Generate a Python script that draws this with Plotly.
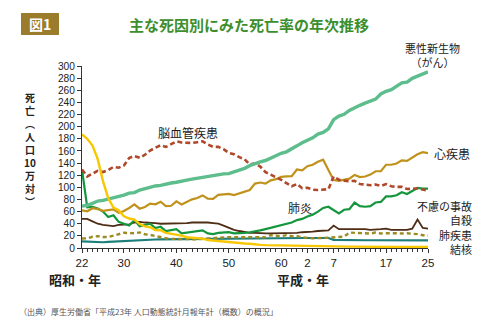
import plotly.graph_objects as go

years = list(range(1947, 2014))

cancer = [69.0, 70.4, 73.6, 77.4, 78.5, 80.6, 82.2, 85.3, 87.1, 90.5, 91.3, 95.5, 98.2, 100.4,
          102.3, 103.2, 105.5, 107.2, 108.4, 110.8, 111.8, 113.4, 114.9, 116.3, 117.7, 120.4,
          121.2, 122.2, 122.6, 125.3, 128.4, 131.3, 135.7, 139.1, 142.0, 144.2, 148.3, 152.5,
          156.1, 158.5, 164.2, 168.4, 173.6, 177.2, 181.7, 187.8, 190.4, 196.4, 211.6, 217.5,
          220.4, 226.7, 231.6, 235.2, 238.8, 241.7, 245.4, 253.9, 258.3, 261.0, 266.9, 272.3,
          273.5, 279.7, 283.2, 286.6, 290.3]

cerebro = [129.4, 117.9, 122.6, 127.1, 125.2, 128.5, 133.7, 132.4, 136.1, 148.4, 151.7, 148.6,
           153.7, 160.7, 165.4, 169.4, 166.6, 171.7, 175.8, 173.8, 173.1, 173.1, 174.4, 175.8,
           170.8, 166.7, 166.7, 163.0, 156.7, 154.5, 149.8, 146.2, 137.7, 139.5, 134.3, 125.0,
           121.0, 117.2, 112.2, 106.9, 101.7, 105.5, 98.5, 99.4, 96.2, 95.6, 96.0, 96.9, 117.9,
           112.6, 111.0, 110.0, 110.8, 105.5, 104.7, 103.4, 104.7, 102.3, 105.3, 101.7, 100.8,
           100.9, 97.2, 97.7, 98.2, 96.5, 94.1]

heart = [62.2, 60.5, 65.6, 64.2, 61.2, 62.1, 63.7, 58.0, 60.9, 66.0, 71.8, 64.8, 67.7, 73.2,
         72.1, 76.2, 68.9, 69.6, 77.0, 71.9, 75.7, 80.2, 82.3, 86.7, 81.4, 80.9, 87.5, 88.6,
         89.2, 87.3, 89.8, 93.0, 95.7, 106.2, 107.9, 106.1, 111.6, 113.4, 117.3, 117.9, 118.4,
         129.4, 128.1, 134.8, 137.2, 142.2, 145.6, 128.6, 112.0, 110.8, 112.2, 114.3, 120.4,
         116.8, 117.8, 121.0, 126.5, 126.5, 137.2, 137.2, 139.2, 144.4, 143.7, 149.8, 154.5,
         157.9, 156.5]

pneumonia = [129, 67, 68, 65, 60, 51, 54, 43, 40, 37, 46, 36, 38, 40, 33, 35, 28, 30, 31, 24,
             25, 26, 27, 29, 24, 23, 25, 25, 26, 24, 24, 25, 26, 27, 29, 31, 33, 35, 38, 40, 42,
             46, 48, 52, 55, 60, 66, 68, 62, 57, 63, 64, 75, 69, 68, 69, 75, 76, 85, 85, 87, 92,
             89, 94, 99, 98, 98]

accident = [48, 48, 44, 40, 38, 37, 36, 38, 39, 39, 42, 43, 42, 42, 41, 40, 40, 41, 41, 41, 41,
            42, 42, 43, 42, 41, 40, 37, 33, 30, 28, 26, 25, 25, 24, 24, 24, 24, 25, 24, 24, 25,
            26, 26, 27, 28, 28, 29, 37, 31, 31, 31, 32, 31, 31, 30, 30, 31, 32, 30, 30, 30, 30,
            32, 47, 33, 32]

suicide = [15.7, 16.0, 18.5, 19.6, 18.2, 18.2, 20.4, 23.4, 25.2, 24.5, 24.3, 25.7, 22.7, 21.6,
           19.6, 17.6, 16.1, 15.1, 14.7, 15.2, 14.2, 14.5, 14.5, 15.3, 15.6, 17.0, 17.4, 17.5,
           18.0, 17.6, 17.9, 17.6, 18.0, 17.7, 17.1, 17.5, 21.0, 20.4, 19.4, 21.2, 19.6, 19.4,
           17.3, 16.4, 16.1, 16.9, 16.6, 16.9, 17.2, 17.8, 18.8, 25.4, 25.0, 24.1, 23.3, 23.8,
           25.5, 24.0, 24.2, 23.7, 24.4, 24.0, 24.4, 23.4, 22.9, 21.0, 20.7]

lung = [11.0, 10.5, 10.0, 9.5, 9.5, 10.0, 10.5, 11.0, 12.0, 12.5, 13.0, 13.5, 14.0, 14.0, 14.0,
        14.2, 14.3, 14.4, 14.5, 14.6, 14.7, 14.8, 14.9, 15.0, 15.2, 15.4, 15.6, 15.8, 16.0,
        16.1, 16.2, 16.3, 16.4, 16.5, 16.5, 16.5, 16.5, 16.5, 16.5, 16.5, 16.5, 16.5, 16.5,
        16.5, 16.5, 16.5, 16.5, 16.5, 13.5, 13.2, 13.0, 13.0, 13.0, 12.9, 12.8, 12.8, 12.8,
        12.7, 12.7, 12.7, 12.6, 12.6, 12.6, 12.6, 12.6, 12.6, 12.5]

tb = [187.2, 179.9, 168.8, 146.4, 110.3, 82.2, 66.5, 62.4, 52.3, 48.6, 46.9, 39.4, 35.5, 34.2,
      29.6, 29.3, 24.9, 23.6, 22.8, 20.3, 17.8, 16.8, 16.1, 15.4, 13.1, 12.2, 11.1, 10.3, 9.5,
      8.9, 7.9, 7.5, 6.9, 5.5, 5.2, 4.7, 4.5, 4.4, 3.9, 3.8, 3.4, 3.2, 3.1, 3.0, 2.8, 2.8, 2.6,
      2.6, 2.6, 2.3, 2.2, 2.2, 2.3, 2.1, 2.0, 1.8, 1.9, 1.8, 1.8, 1.8, 1.7, 1.8, 1.7, 1.7, 1.7,
      1.7, 1.7]

x_tickvals = [1947, 1955, 1965, 1975, 1985, 1990, 1995, 2005, 2013]
x_ticktext = ["22", "30", "40", "50", "60", "2", "7", "17", "25"]

# plot-area pixel frame
L, R, T, B = 82, 428, 66, 248
W, H = R - L, B - T
FIG_W, FIG_H = 490, 322


def px(p):
    return (p - L) / W


def py(p):
    return (B - p) / H


JP = "Noto Sans CJK JP"
NUM = "Liberation Sans, Arial"

fig = go.Figure()


def add(y, color, width, dash="solid"):
    fig.add_trace(go.Scatter(x=years, y=y, mode="lines",
                             line=dict(color=color, width=width, dash=dash),
                             cliponaxis=False, showlegend=False, hoverinfo="skip"))


add(lung, "#1d7f7c", 2.2)
add(suicide, "#9c8b22", 2.4, "4px,3px")
add(accident, "#4e2d14", 1.8)
add(pneumonia, "#14963c", 2.2)
add(heart, "#c0921c", 2.2)
add(cerebro, "#b0482a", 2.6, "5px,3px")
add(cancer, "#5dbd8c", 3.4)
add(tb, "#f8c700", 2.4)

fig.update_layout(
    width=FIG_W, height=FIG_H,
    margin=dict(l=L, r=FIG_W - R, t=T, b=FIG_H - B, pad=0),
    paper_bgcolor="white", plot_bgcolor="white",
    xaxis=dict(range=[1947, 2013], tickvals=x_tickvals, ticktext=x_ticktext,
               showline=True, linecolor="#333", linewidth=1, ticks="outside", ticklen=4,
               tickcolor="#333", showgrid=False, zeroline=False,
               tickfont=dict(family=NUM, size=11.5, color="#222"),
               minor=dict(tick0=1947, dtick=1, ticks="outside", ticklen=3, tickcolor="#333")),
    yaxis=dict(range=[0, 300], dtick=20, showline=True, linecolor="#333", linewidth=1,
               ticks="outside", ticklen=4, tickcolor="#333", showgrid=False, zeroline=False,
               tickfont=dict(family=NUM, size=10.2, color="#222")),
)

ann = []


def text(t, x, y, size=12, color="#222", bold=False, anchor="center", family=JP,
         align="center"):
    if bold:
        t = "<b>" + t + "</b>"
    ann.append(dict(text=t, x=px(x), y=py(y), xref="paper", yref="paper",
                    xanchor=anchor, yanchor="middle", showarrow=False, align=align,
                    font=dict(family=family, size=size, color=color)))


# title and figure badge
text("主な死因別にみた死亡率の年次推移", 249, 25, size=15, color="#3d8f2e", bold=True)
fig.add_shape(type="rect", xref="paper", yref="paper", x0=px(21), x1=px(59), y0=py(13),
              y1=py(35), fillcolor="#9b7c2c", line=dict(width=0), layer="above")
text("図1", 40, 24, size=14, color="white", bold=True)

# vertical y-axis label (one stacked text)
text("<br>".join(["死", "亡", "︵", "人", "口", "10", "万", "対", "︶"]), 30, 149,
     size=10, color="#222", bold=True)

# series labels
text("悪性新生物<br>（がん）", 432, 55, size=11)
text("脳血管疾患", 188, 132, size=12)
text("心疾患", 452, 153, size=12)
text("肺炎", 300, 207, size=12)
text("不慮の事故<br>自殺<br>肺疾患<br>結核", 474, 227, size=11, anchor="right",
     align="right")

# era labels and source
text("昭和・年", 75, 279, size=13, bold=True)
text("平成・年", 303, 279, size=13, bold=True)
text("（出典）厚生労働省「平成23年 人口動態統計月報年計（概数）の概況」", 17, 311, size=8,
     color="#555", anchor="left")

fig.update_layout(annotations=ann)
fig.write_html("out.html")
